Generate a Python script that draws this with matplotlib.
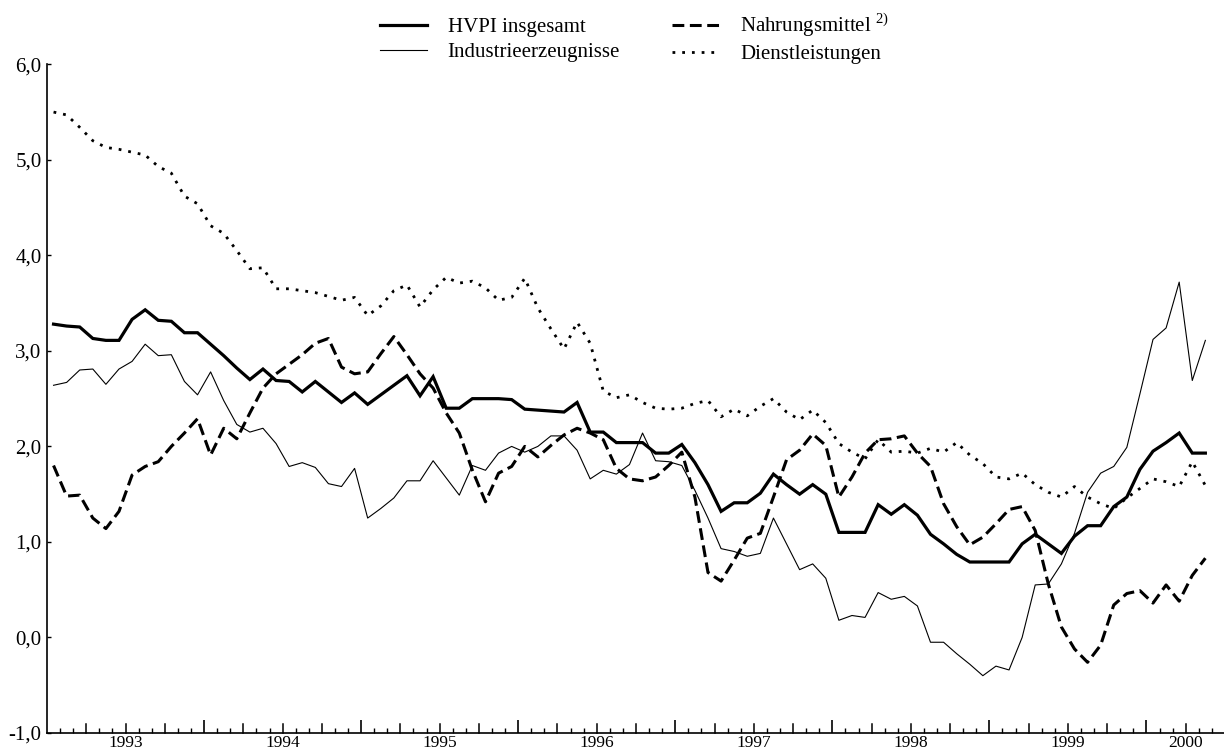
import numpy as np
import matplotlib
matplotlib.use("Agg")
from matplotlib import pyplot as plt

plt.rcParams['font.family'] = ['Liberation Serif', 'DejaVu Serif']
plt.rcParams['mathtext.fontset'] = 'custom'
plt.rcParams['mathtext.rm'] = 'Liberation Serif'
plt.rcParams['lines.scale_dashes'] = False

# monthly rates, Jan 1993 .. May 2000
hvpi = [3.28, 3.26, 3.25, 3.13, 3.11, 3.11, 3.33, 3.43, 3.32, 3.31, 3.19, 3.19,
        3.07, 2.95, 2.82, 2.70, 2.81, 2.69, 2.68, 2.57, 2.68, 2.57, 2.46, 2.56,
        2.44, 2.54, 2.64, 2.74, 2.53, 2.73, 2.40, 2.40, 2.50, 2.50, 2.50, 2.49,
        2.39, 2.38, 2.37, 2.36, 2.46, 2.15, 2.15, 2.04, 2.04, 2.04, 1.93, 1.93,
        2.02, 1.83, 1.60, 1.32, 1.41, 1.41, 1.51, 1.71, 1.60, 1.50, 1.60, 1.50,
        1.10, 1.10, 1.10, 1.39, 1.29, 1.39, 1.28, 1.08, 0.98, 0.87, 0.79, 0.79,
        0.79, 0.79, 0.98, 1.08, 0.98, 0.88, 1.06, 1.17, 1.17, 1.37, 1.47, 1.76,
        1.95, 2.04, 2.14, 1.93, 1.93]
industrie = [2.64, 2.67, 2.80, 2.81, 2.65, 2.81, 2.89, 3.07, 2.95, 2.96, 2.68, 2.54,
             2.78, 2.48, 2.23, 2.15, 2.19, 2.03, 1.79, 1.83, 1.78, 1.61, 1.58, 1.77,
             1.25, 1.35, 1.46, 1.64, 1.64, 1.85, 1.67, 1.49, 1.80, 1.75, 1.93, 2.00,
             1.94, 2.00, 2.11, 2.11, 1.96, 1.66, 1.75, 1.71, 1.81, 2.14, 1.85, 1.84,
             1.80, 1.54, 1.25, 0.93, 0.90, 0.85, 0.88, 1.25, 0.98, 0.71, 0.77, 0.62,
             0.18, 0.23, 0.21, 0.47, 0.40, 0.43, 0.33, -0.05, -0.05, -0.17, -0.28, -0.40,
             -0.30, -0.34, 0.00, 0.55, 0.56, 0.77, 1.09, 1.52, 1.72, 1.79, 1.99, 2.55,
             3.12, 3.24, 3.72, 2.69, 3.11]
nahrung = [1.80, 1.48, 1.49, 1.25, 1.14, 1.32, 1.70, 1.79, 1.84, 2.00, 2.14, 2.29,
           1.91, 2.19, 2.08, 2.35, 2.61, 2.76, 2.86, 2.96, 3.08, 3.13, 2.83, 2.76,
           2.78, 2.97, 3.15, 2.96, 2.76, 2.61, 2.35, 2.14, 1.75, 1.42, 1.72, 1.79,
           2.00, 1.89, 2.01, 2.12, 2.19, 2.14, 2.07, 1.77, 1.66, 1.64, 1.68, 1.80,
           1.94, 1.47, 0.68, 0.59, 0.81, 1.04, 1.09, 1.47, 1.86, 1.96, 2.13, 2.01,
           1.47, 1.68, 1.93, 2.07, 2.08, 2.11, 1.93, 1.79, 1.40, 1.16, 0.97, 1.05,
           1.19, 1.34, 1.37, 1.12, 0.56, 0.11, -0.12, -0.26, -0.08, 0.34, 0.46, 0.49,
           0.36, 0.55, 0.38, 0.65, 0.83]
dienst = [5.50, 5.47, 5.34, 5.20, 5.13, 5.11, 5.08, 5.05, 4.93, 4.86, 4.62, 4.54,
          4.31, 4.23, 4.05, 3.86, 3.87, 3.65, 3.65, 3.63, 3.61, 3.57, 3.53, 3.56,
          3.37, 3.47, 3.63, 3.69, 3.46, 3.64, 3.77, 3.71, 3.73, 3.66, 3.53, 3.56,
          3.76, 3.45, 3.23, 3.02, 3.30, 3.08, 2.58, 2.51, 2.54, 2.46, 2.40, 2.39,
          2.40, 2.45, 2.48, 2.31, 2.39, 2.32, 2.42, 2.50, 2.36, 2.28, 2.38, 2.25,
          2.03, 1.94, 1.87, 2.07, 1.94, 1.95, 1.93, 1.98, 1.94, 2.04, 1.91, 1.82,
          1.68, 1.66, 1.72, 1.60, 1.52, 1.47, 1.58, 1.47, 1.40, 1.35, 1.46, 1.56,
          1.66, 1.63, 1.58, 1.84, 1.59]

years = ['1993', '1994', '1995', '1996', '1997', '1998', '1999', '2000']
labels = ['HVPI insgesamt', 'Industrieerzeugnisse',
          r'Nahrungsmittel $^{\mathrm{2)}}$', 'Dienstleistungen']

n_months = 90  # axis runs Jan 1993 .. end of Jun 2000
months = np.arange(len(hvpi)) + 0.5

fig = plt.figure(figsize=(12.24, 7.49), dpi=100)
ax = fig.add_axes([47 / 1224, 1 - 733 / 749, (1225 - 47) / 1224, (733 - 64.3) / 749])

l1, = ax.plot(months, hvpi, color='black', lw=2.3, solid_joinstyle='miter')
l2, = ax.plot(months, industrie, color='black', lw=0.8)
l3, = ax.plot(months, nahrung, color='black', lw=2.2, dashes=(8.5, 4.0))
l4, = ax.plot(months, dienst, color='black', lw=2.0, dashes=(2.0, 5.0))

ax.set_xlim(0, n_months)
ax.set_ylim(-1, 6)

for s in ['top', 'right']:
    ax.spines[s].set_visible(False)
for s in ['left', 'bottom']:
    ax.spines[s].set_linewidth(1.2)

# y axis
ax.set_yticks(np.arange(-1, 7))
ax.set_yticklabels(['{:.1f}'.format(v).replace('.', ',') for v in np.arange(-1, 7)])
ax.tick_params(axis='y', direction='in', length=3, width=1, pad=4, labelsize=15)

# x axis: month ticks, quarters longer, year boundaries longest
ax.set_xticks([m for m in range(1, n_months) if m % 12 == 0])
ax.set_xticks([m for m in range(1, n_months) if m % 3 != 0], minor=True)
ax.tick_params(axis='x', which='major', direction='in', length=9.5, width=1.2,
               labelbottom=False)
ax.tick_params(axis='x', which='minor', direction='in', length=3.6, width=1)
for m in range(1, n_months):
    if m % 3 == 0 and m % 12 != 0:
        ax.plot([m, m], [0, 9 / 668.7], transform=ax.get_xaxis_transform(),
                color='black', lw=1.1, clip_on=False)

# year labels centred under each (partial) year, baseline just above the bottom edge
year_centers = [min(12 * k + 6, (12 * k + n_months) / 2) for k in range(len(years))]
for c, y in zip(year_centers, years):
    ax.text(c, -14 / 668.7, y, transform=ax.get_xaxis_transform(), ha='center',
            va='baseline', fontsize=12.5)

fig.legend([l1, l2, l3, l4], labels, ncol=2, loc='upper left', frameon=False,
           bbox_to_anchor=(380 / 1224, 1 - 11 / 749), borderpad=0, borderaxespad=0,
           fontsize=15, handlelength=2.25, handletextpad=1.0, columnspacing=2.5,
           labelspacing=0.28)

fig.savefig('out.png', dpi=100)
